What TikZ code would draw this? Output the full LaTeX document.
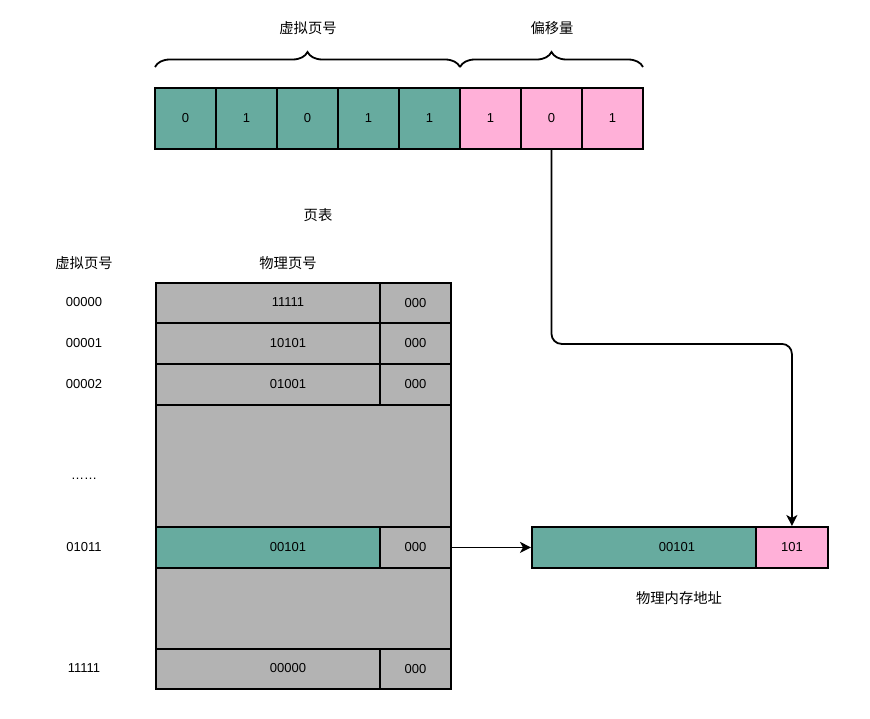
\documentclass[tikz,border=0pt]{standalone}
\usepackage{fontspec}
\setmainfont{Liberation Sans}
\newfontfamily\cjk[Scale=1.1]{Noto Sans CJK SC}
\usetikzlibrary{arrows.meta,decorations.pathreplacing,calc}

\definecolor{vpn}{HTML}{67AB9F}
\definecolor{off}{HTML}{FFB0D8}
\definecolor{pte}{HTML}{B3B3B3}

\begin{document}
\begin{tikzpicture}[x=1pt,y=-1pt,line width=1.8pt,font=\fontsize{13}{15}\selectfont]
    % `bit' is one square of the virtual address.
    % `cell' is a box of the page table or of the physical address.
    % `brace' marks the two parts of the virtual address.
    \tikzstyle{bit} = [draw,minimum size=61pt,inner sep=0pt]
    \tikzstyle{cell} = [draw,anchor=north west,inner sep=0pt]
    \tikzstyle{brace} = [decorate,decoration={brace,amplitude=15pt}]
    \tikzstyle{arr} = [-{Stealth[length=11pt,width=11pt,inset=3pt]}]
    \useasboundingbox (0,0) rectangle (870,718);
    %
    % Virtual address.
    \foreach \v [count=\i] in {0,1,0,1,1,1,0,1} {
      \ifnum\i<6 \def\c{vpn}\else\def\c{off}\fi
      \node[bit,fill=\c] (b\i) at ({124.5+61*\i},118.5) {\v};
    }
    \draw[brace] (155,67) -- (460,67);
    \draw[brace] (460,67) -- (643,67);
    \node (vpnlabel) at (308,28) {\cjk 虚拟页号};
    \node (offlabel) at (552,28) {\cjk 偏移量};
    %
    % Page table.
    \node (tablehead) at (318,215) {\cjk 页表};
    \node (vpnhead) at (84,263) {\cjk 虚拟页号};
    \node (pfnhead) at (288,263) {\cjk 物理页号};
    \foreach \t/\h/\vp/\pp/\n/\c in {282/40/00000/11111/1/pte, 322/41/00001/10101/2/pte,
                                    363/41/00002/01001/3/pte, 526/41/01011/00101/5/vpn,
                                    648/40/11111/00000/7/pte} {
      \node[cell,fill=\c,minimum width=224pt,minimum height=\h pt] (pfn\n) at (155,\t) {};
      \node[cell,fill=pte,minimum width=71pt,minimum height=\h pt] (flag\n) at (379,\t) {};
      \node (pfnv\n) at (288,{\t+\h/2+0.5}) {\pp};
      \node (flagv\n) at (flag\n) {000};
      \node (vpnv\n) at (84,{\t+\h/2+0.5}) {\vp};
    }
    \node[cell,fill=pte,minimum width=295pt,minimum height=122pt] (gap4) at (155,404) {};
    \node[cell,fill=pte,minimum width=295pt,minimum height=81pt] (gap6) at (155,567) {};
    \node (dots) at (84,479) {……};
    %
    % Physical address.
    \node[cell,fill=vpn,minimum width=224pt,minimum height=41pt] (papfn) at (531,526) {};
    \node[cell,fill=off,minimum width=72pt,minimum height=41pt] (paoff) at (755,526) {};
    \node (papfnv) at (677,547) {00101};
    \node (paoffv) at (paoff) {101};
    \node (pahead) at (679,598) {\cjk 物理内存地址};
    %
    % Connectors.
    \draw[arr] (flag5.east) -- (papfn.west);
    \draw[arr,rounded corners=10pt] (b7.south) -- ++(0,194) -| (paoff.north);
\end{tikzpicture}
\end{document}
